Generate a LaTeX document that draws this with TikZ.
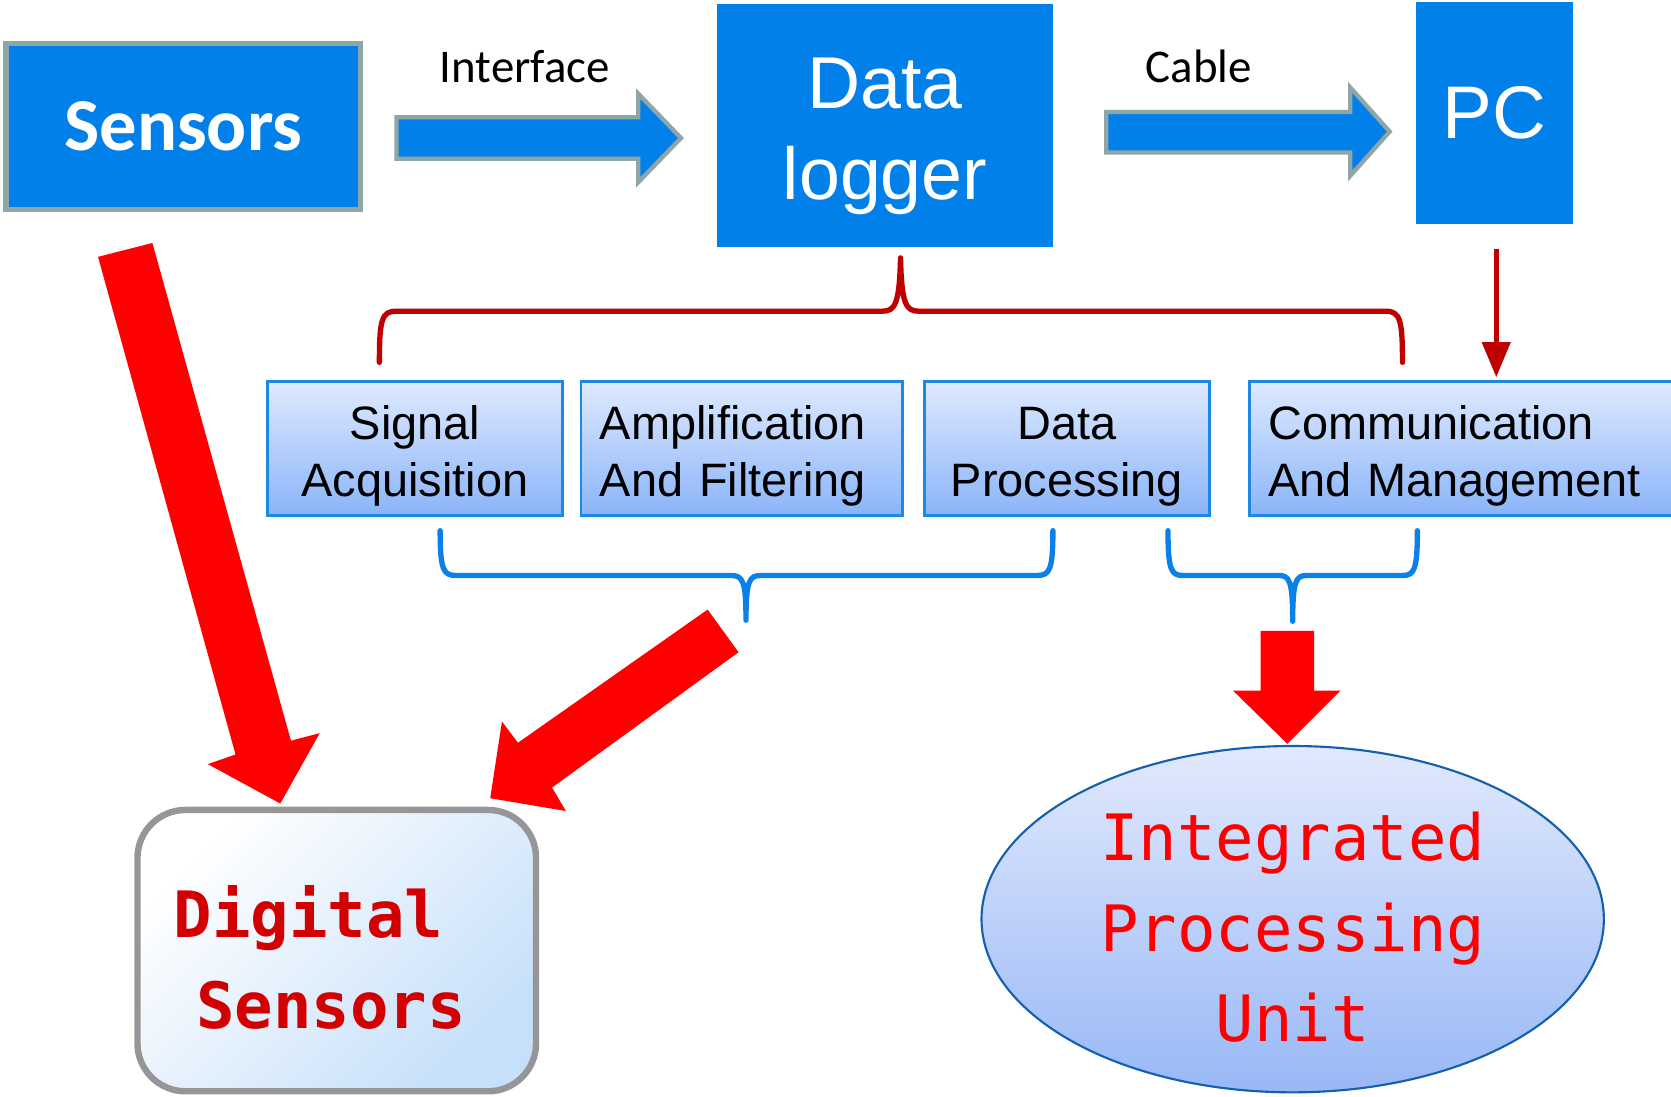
\documentclass[tikz,border=0pt]{standalone}
\usepackage{fontspec}
\setmainfont{Liberation Sans}
\newfontfamily\carlito{Carlito}
\newfontfamily\monof{DejaVu Sans Mono}
\usetikzlibrary{shapes.geometric,arrows.meta,calc}
\definecolor{mainblue}{RGB}{0,128,232}
\definecolor{arrgray}{RGB}{143,165,168}
\definecolor{darkred}{RGB}{192,0,0}
\definecolor{brightred}{RGB}{255,0,0}
\definecolor{subtop}{RGB}{222,234,255}
\definecolor{subbot}{RGB}{138,180,249}
\definecolor{subline}{RGB}{30,136,229}
\definecolor{bracebl}{RGB}{10,128,232}
\definecolor{elltop}{RGB}{226,233,253}
\definecolor{ellbot}{RGB}{152,184,246}
\definecolor{ellline}{RGB}{20,96,176}
\definecolor{dsline}{RGB}{150,150,150}
\definecolor{dsbot}{RGB}{198,224,250}
\definecolor{dstext}{RGB}{210,0,0}
\begin{document}
\begin{tikzpicture}[x=1pt,y=-1pt,
 topbox/.style={fill=mainblue,text=white,inner sep=0pt},
 subbox/.style={draw=subline,line width=2.5pt,top color=subtop,bottom color=subbot,minimum height=125.5pt,inner sep=0pt,align=center,font=\fontsize{44}{54}\selectfont},
 leftsub/.style={subbox,align=left,inner xsep=17.75pt},
 blockarrow/.style={fill=mainblue,draw=arrgray,line width=4pt,miter limit=10},
 bigred/.style={fill=brightred},
 redbrace/.style={draw=darkred,line width=5pt,line join=round,line cap=round},
 bluebrace/.style={draw=bracebl,line width=5pt,line join=round,line cap=round},
 lbl/.style={font=\carlito\fontsize{44}{53}\selectfont,inner sep=0pt,anchor=base},
 dstxt/.style={font=\monof\bfseries\fontsize{60}{72}\selectfont,text=dstext,inner sep=0pt,anchor=base west}
]
\useasboundingbox (0,0) rectangle (1568,1029);

% top row
\node[topbox,draw=arrgray,line width=5pt,minimum width=333pt,minimum height=156pt,font=\carlito\bfseries\fontsize{70}{84}\selectfont] (sensors) at (172,118.5) {Sensors};
\node[topbox,minimum width=315pt,minimum height=228pt,align=center,font=\fontsize{69}{85}\selectfont] (logger) at (830.5,118) {\rule{0pt}{67.5pt}Data\\logger};
\node[topbox,minimum width=147pt,minimum height=208pt,font=\fontsize{70}{84}\selectfont] (pc) at (1402.5,106) {PC};

\node[lbl] (iflbl) at (492.5,77) {Interface};
\node[lbl] (cablbl) at (1125,77) {Cable};

\draw[blockarrow] (372,110) -- (599,110) -- (599,88) -- (639,129.5) -- (599,171) -- (599,149) -- (372,149) -- cycle;
\draw[blockarrow] (1038,105) -- (1267,105) -- (1267,82) -- (1304,123.5) -- (1267,165) -- (1267,143) -- (1038,143) -- cycle;

% sub boxes
\node[subbox,minimum width=276.5pt] (sig) at (389.5,421) {\rule{0pt}{45pt}Signal\\Acquisition};
\node[leftsub,text width=266pt] (amp) at (696,421) {\rule{0pt}{45pt}Amplification\\And Filtering};
\node[subbox,minimum width=267.5pt] (dp) at (1001,421) {\rule{0pt}{45pt}Data\\Processing};
\node[leftsub,text width=394.5pt] (comm) at (1387.25,421) {\rule{0pt}{45pt}Communication\\And Management};

% braces
\draw[redbrace] (356,340) .. controls (356,300) and (358,292) .. (372,292) -- (828,292) .. controls (840,292) and (844,285) .. (845,242) .. controls (846,285) and (850,292) .. (862,292) -- (1300,292) .. controls (1314,292) and (1316,300) .. (1316,340);
\draw[bluebrace] (413,498) .. controls (413,535) and (416,540) .. (428,540) -- (686,540) .. controls (697,540) and (700,545) .. (700,582) .. controls (700,545) and (703,540) .. (714,540) -- (973,540) .. controls (985,540) and (988,535) .. (988,498);
\draw[bluebrace] (1096,498) .. controls (1096,535) and (1099,540) .. (1110,540) -- (1200,540) .. controls (1210,540) and (1213,545) .. (1213,583) .. controls (1213,545) and (1216,540) .. (1226,540) -- (1316,540) .. controls (1327,540) and (1330,535) .. (1330,498);

% PC arrow
\draw[darkred,line width=5pt,-{Triangle[length=33pt,width=26pt]}] ($(pc.south)+(1.5,23)$) -- ($(pc.south |- comm.north)+(1.5,-3)$);

% big red arrows
\fill[bigred] (92,241) -- (221,708) -- (195,717) -- (263,754) -- (300,688) -- (273,695) -- (143,228) -- cycle;
\fill[bigred] (664,572) -- (486,697) -- (471,677) -- (460,749) -- (531,761) -- (518,739) -- (693,612) -- cycle;
\fill[bigred] (1183,592) -- (1233,592) -- (1233,648) -- (1258,648) -- (1208,698) -- (1157,648) -- (1183,648) -- cycle;

% digital sensors
\node[draw=dsline,line width=6pt,rounded corners=45pt,minimum width=374pt,minimum height=264pt,top color=white,bottom color=dsbot,shading angle=45,inner sep=0pt] (ds) at (316,892) {};
\node[dstxt] (dsa) at (163,880) {Digital};
\node[dstxt] (dsb) at (184,965) {Sensors};

% integrated processing unit
\node[ellipse,draw=ellline,line width=2pt,top color=elltop,bottom color=ellbot,minimum width=584pt,minimum height=325pt,inner sep=0pt] (ipu) at (1213,862.5) {};
\node[font=\monof\fontsize{60}{85}\selectfont,text=brightred,align=center,inner sep=0pt] (ipuTxt) at (1213,870) {Integrated\\Processing\\Unit};
\end{tikzpicture}
\end{document}
